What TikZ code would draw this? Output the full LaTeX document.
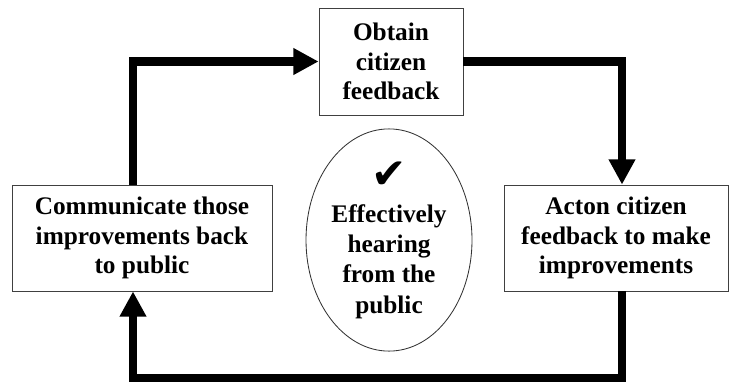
\documentclass[tikz,border=0pt]{standalone}
\usepackage{fontspec}
\setmainfont{Liberation Serif}
\newfontfamily\symfont{DejaVu Sans}
\usetikzlibrary{arrows.meta,shapes.geometric}

\tikzset{
  stepbox/.style={draw=black!75, line width=0.6pt, fill=white, align=center,
    font=\bfseries\fontsize{18}{21}\selectfont, inner sep=2pt},
  hub/.style={ellipse, draw=black!80, line width=0.6pt, align=center,
    minimum width=4.15cm, minimum height=5cm, inner sep=0pt,
    font=\bfseries\fontsize{18}{21.5}\selectfont},
  loop/.style={line width=5.7pt, line join=miter},
  looptip/.style={-{Triangle[length=0.63cm,width=0.63cm]}}
}

\begin{document}
\begin{tikzpicture}

  % ================= frame =================
  \useasboundingbox (0,0) rectangle (18.225,9.575);

  % ================= geometry =================
  \coordinate (lcol) at (3.325,0);        % left riser
  \coordinate (rcol) at (15.55,0);        % right drop
  \coordinate (base) at (9,0.125);        % bottom return line

  % ================= the steps =================
  \node[stepbox, minimum width=3.6cm, minimum height=2.675cm]
      (obtain) at (9.775,8.0375) {Obtain\\citizen\\feedback};
  \node[stepbox, minimum width=5.6cm, minimum height=2.65cm]
      (act) at (15.4,3.625) {Acton citizen\\feedback to make\\improvements};
  \node[stepbox, minimum width=6.5cm, minimum height=2.65cm]
      (communicate) at (3.55,3.625) {Communicate those\\improvements back\\to public};

  % ================= centre =================
  \node[hub] (hear) at (9.725,3.575)
      {{\normalfont\symfont\fontsize{30}{30}\selectfont ✔}\\[3pt]Effectively\\hearing\\from the\\public};

  % ================= the loop =================
  \draw[loop, looptip] (communicate.north -| lcol) |- (obtain.west);
  \draw[loop, looptip] (obtain.east) -| (act.north -| rcol);
  \draw[loop, looptip] (act.south -| rcol) |- (base) -| (communicate.south -| lcol);

\end{tikzpicture}
\end{document}
